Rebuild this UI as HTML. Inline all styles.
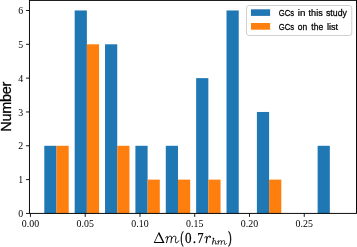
<!DOCTYPE html>
<html><head><meta charset="utf-8"><style>
html,body{margin:0;padding:0;background:#fff;width:357px;height:247px;overflow:hidden}
svg{display:block}
svg{will-change:transform}
text{font-kerning:none}
.tk text{font-family:"Liberation Serif",serif;font-size:9.9px;fill:#000;stroke:none}
.tk line{stroke:#000;stroke-width:0.9}
</style></head><body>
<svg width="357" height="247" viewBox="0 0 357 247">
<rect width="357" height="247" fill="#fff"/>
<rect x="44.30" y="145.79" width="12.20" height="67.66" fill="#1f77b4"/>
<rect x="56.50" y="145.79" width="12.20" height="67.66" fill="#ff7f0e"/>
<rect x="74.67" y="10.47" width="12.20" height="202.98" fill="#1f77b4"/>
<rect x="86.87" y="44.30" width="12.20" height="169.15" fill="#ff7f0e"/>
<rect x="105.04" y="44.30" width="12.20" height="169.15" fill="#1f77b4"/>
<rect x="117.24" y="145.79" width="12.20" height="67.66" fill="#ff7f0e"/>
<rect x="135.41" y="145.79" width="12.20" height="67.66" fill="#1f77b4"/>
<rect x="147.61" y="179.62" width="12.20" height="33.83" fill="#ff7f0e"/>
<rect x="165.78" y="145.79" width="12.20" height="67.66" fill="#1f77b4"/>
<rect x="177.98" y="179.62" width="12.20" height="33.83" fill="#ff7f0e"/>
<rect x="196.15" y="78.13" width="12.20" height="135.32" fill="#1f77b4"/>
<rect x="208.35" y="179.62" width="12.20" height="33.83" fill="#ff7f0e"/>
<rect x="226.52" y="10.47" width="12.20" height="202.98" fill="#1f77b4"/>
<rect x="256.89" y="111.96" width="12.20" height="101.49" fill="#1f77b4"/>
<rect x="269.09" y="179.62" width="12.20" height="33.83" fill="#ff7f0e"/>
<rect x="317.63" y="145.79" width="12.20" height="67.66" fill="#1f77b4"/>
<g class="tk">
<line x1="26.0" y1="213.45" x2="29.5" y2="213.45"/>
<text x="23.2" y="217.15" text-anchor="end">0</text>
<line x1="26.0" y1="179.62" x2="29.5" y2="179.62"/>
<text x="23.2" y="183.32" text-anchor="end">1</text>
<line x1="26.0" y1="145.79" x2="29.5" y2="145.79"/>
<text x="23.2" y="149.49" text-anchor="end">2</text>
<line x1="26.0" y1="111.96" x2="29.5" y2="111.96"/>
<text x="23.2" y="115.66" text-anchor="end">3</text>
<line x1="26.0" y1="78.13" x2="29.5" y2="78.13"/>
<text x="23.2" y="81.83" text-anchor="end">4</text>
<line x1="26.0" y1="44.30" x2="29.5" y2="44.30"/>
<text x="23.2" y="48.00" text-anchor="end">5</text>
<line x1="26.0" y1="10.47" x2="29.5" y2="10.47"/>
<text x="23.2" y="14.17" text-anchor="end">6</text>
<line x1="30.45" y1="213.4" x2="30.45" y2="216.9"/>
<text x="30.45" y="227.2" text-anchor="middle">0.00</text>
<line x1="85.21" y1="213.4" x2="85.21" y2="216.9"/>
<text x="85.21" y="227.2" text-anchor="middle">0.05</text>
<line x1="139.97" y1="213.4" x2="139.97" y2="216.9"/>
<text x="139.97" y="227.2" text-anchor="middle">0.10</text>
<line x1="194.73" y1="213.4" x2="194.73" y2="216.9"/>
<text x="194.73" y="227.2" text-anchor="middle">0.15</text>
<line x1="249.49" y1="213.4" x2="249.49" y2="216.9"/>
<text x="249.49" y="227.2" text-anchor="middle">0.20</text>
<line x1="304.25" y1="213.4" x2="304.25" y2="216.9"/>
<text x="304.25" y="227.2" text-anchor="middle">0.25</text>
</g>
<rect x="29.45" y="0.4" width="327.05" height="213.0" fill="none" stroke="#000" stroke-width="0.95"/>
<rect x="246.5" y="5.5" width="105.3" height="30.0" rx="2.5" ry="2.5" fill="#fff" fill-opacity="0.8" stroke="#cccccc" stroke-width="0.9"/>
<rect x="251" y="9.3" width="19.1" height="6.6" fill="#1f77b4"/>
<rect x="251" y="23.0" width="19.1" height="6.7" fill="#ff7f0e"/>
<text transform="translate(278.74,15.60) scale(0.820,1)" font-family="Liberation Sans" font-size="9.4" stroke="#000" stroke-width="0.25">GCs</text>
<text transform="translate(297.77,15.60) scale(1.045,1)" font-family="Liberation Sans" font-size="9.4" stroke="#000" stroke-width="0.25">in</text>
<text transform="translate(308.59,15.60) scale(0.965,1)" font-family="Liberation Sans" font-size="9.4" stroke="#000" stroke-width="0.25">this</text>
<text transform="translate(325.98,15.60) scale(0.931,1)" font-family="Liberation Sans" font-size="9.4" stroke="#000" stroke-width="0.25">study</text>
<text transform="translate(278.74,29.50) scale(0.820,1)" font-family="Liberation Sans" font-size="9.4" stroke="#000" stroke-width="0.25">GCs</text>
<text transform="translate(297.77,29.50) scale(0.905,1)" font-family="Liberation Sans" font-size="9.4" stroke="#000" stroke-width="0.25">on</text>
<text transform="translate(311.30,29.50) scale(0.907,1)" font-family="Liberation Sans" font-size="9.4" stroke="#000" stroke-width="0.25">the</text>
<text transform="translate(326.91,29.50) scale(0.978,1)" font-family="Liberation Sans" font-size="9.4" stroke="#000" stroke-width="0.25">list</text>
<g transform="translate(10.7,0) rotate(-90)"><text x="-131.74" y="0.00" font-family="Liberation Sans" font-size="14.5" letter-spacing="-0.308" stroke="#000" stroke-width="0.3">Number</text></g>
<path fill-rule="evenodd" fill="#000" d="M153.7 243.1 L158.7 232.3 L159.3 232.3 L164.5 243.1 Z M154.9 242.0 L158.57 234.3 L162.58 242.0 Z"/>
<path d="M165.8 237.9 C166.1 236.9 166.6 236.3 167.2 236.35 C167.8 236.4 167.9 237.0 167.7 237.8 L166.5 242.7 M167.4 238.8 C168.0 237.0 169.2 236.2 170.3 236.2 C171.4 236.2 171.8 236.8 171.6 237.8 L170.9 242.7 M171.6 238.8 C172.3 237.0 173.4 236.2 174.5 236.2 C175.6 236.2 176.1 236.8 175.9 237.8 L175.5 240.5 C175.2 241.9 175.5 242.8 176.3 242.8 C177.3 242.8 178.1 242.0 178.7 240.9" fill="none" stroke="#000" stroke-width="0.95" stroke-linecap="round" stroke-linejoin="round"/>
<text transform="translate(180.56,242.62) scale(0.572,1)" font-family="Liberation Serif" font-size="15.66" stroke="#000" stroke-width="0.50">(</text>
<text transform="translate(185.03,243.32) scale(0.838,1)" font-family="Liberation Serif" font-size="15.63" stroke="#000" stroke-width="0.25">0</text>
<circle cx="194.45" cy="242.25" r="0.92" fill="#000"/>
<text transform="translate(197.19,243.38) scale(0.836,1)" font-family="Liberation Serif" font-size="15.20" stroke="#000" stroke-width="0.25">7</text>
<path d="M204.7 237.9 C205.1 236.8 205.8 236.0 206.5 236.2 C207.0 236.4 207.2 237.0 207.1 237.6" fill="none" stroke="#000" stroke-width="0.75" stroke-linecap="round"/>
<path d="M207.1 237.4 L206.2 242.6" fill="none" stroke="#000" stroke-width="1.15" stroke-linecap="round"/>
<path d="M206.9 238.3 C207.5 236.8 208.6 235.9 209.7 235.95" fill="none" stroke="#000" stroke-width="0.8" stroke-linecap="round"/>
<circle cx="210.2" cy="236.9" r="0.95" fill="#000"/>
<path d="M212.9 238.3 L213.8 238.3 M213.65 238.35 L212.45 244.2" fill="none" stroke="#000" stroke-width="0.85" stroke-linecap="round"/>
<path d="M212.9 242.0 C213.3 241.0 214.0 240.55 214.8 240.55 C215.5 240.55 215.8 241.0 215.6 241.7 L215.3 243.0 C215.1 243.8 215.4 244.2 215.9 244.2 C216.4 244.2 216.8 243.8 217.0 243.3" fill="none" stroke="#000" stroke-width="0.75" stroke-linecap="round" stroke-linejoin="round"/>
<path d="M 217.50 241.57 C 217.71 240.97 218.06 240.61 218.49 240.64 C 218.91 240.67 218.98 241.03 218.84 241.51 L 217.99 244.45 M 218.63 242.11 C 219.05 241.03 219.90 240.55 220.67 240.55 C 221.45 240.55 221.73 240.91 221.59 241.51 L 221.10 244.45 M 221.59 242.11 C 222.08 241.03 222.86 240.55 223.63 240.55 C 224.41 240.55 224.76 240.91 224.62 241.51 L 224.34 243.13 C 224.13 243.97 224.34 244.51 224.90 244.51 C 225.61 244.51 226.17 244.03 226.59 243.37" fill="none" stroke="#000" stroke-width="0.75" stroke-linecap="round" stroke-linejoin="round"/>
<text transform="translate(228.24,242.82) scale(0.622,1)" font-family="Liberation Serif" font-size="15.66" stroke="#000" stroke-width="0.50">)</text>
</svg>
</body></html>
